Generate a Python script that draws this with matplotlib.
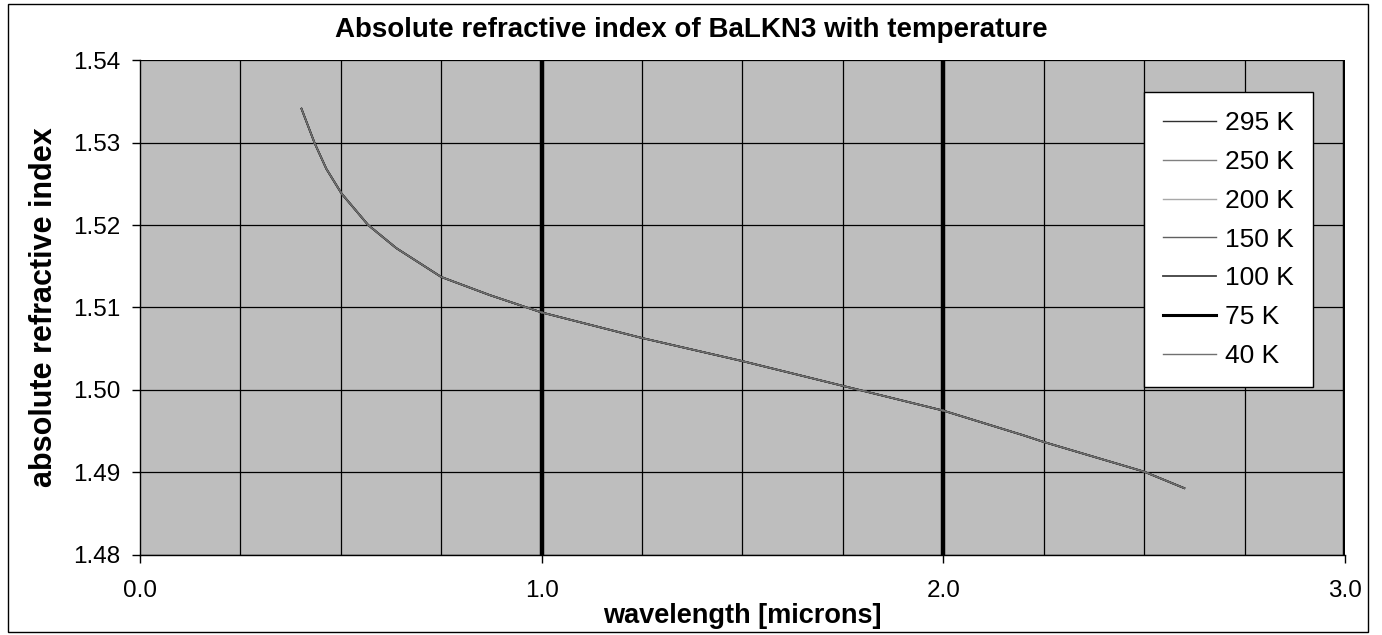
import numpy as np
import matplotlib
matplotlib.use("Agg")
import matplotlib.pyplot as plt
from matplotlib.patches import Rectangle

plt.rcParams['font.family'] = ['Liberation Sans', 'DejaVu Sans']

# values (all temperatures overlap on the scale shown)
wavelength = [0.402, 0.435, 0.464, 0.502, 0.568, 0.638, 0.750, 0.871, 1.00, 1.25, 1.50, 1.75,
              2.00, 2.20, 2.25, 2.50, 2.60]
index_read = [1.5341, 1.5299, 1.5268, 1.5238, 1.5200, 1.5172, 1.5137, 1.5115, 1.5094, 1.5063,
              1.5035, 1.5005, 1.4975, 1.4945, 1.4937, 1.4901, 1.4881]
temperatures = ["295 K", "250 K", "200 K", "150 K", "100 K", "75 K", "40 K"]
line_colors = ["#303030", "#808080", "#a8a8a8", "#606060", "#404040", "#000000", "#707070"]
line_widths = [1.0, 1.0, 1.0, 1.0, 1.3, 2.2, 1.0]

fig = plt.figure(figsize=(13.82, 6.35), dpi=100)
ax = fig.add_axes([0.1013, 0.126, 0.8719, 0.7795])
ax.set_facecolor("#bebebe")

for label, c in zip(temperatures, line_colors):
    ax.plot(wavelength, index_read, color=c, lw=1.2, label=label, zorder=3)

ax.set_xlim(0, 3.0)
ax.set_ylim(1.48, 1.54)
ax.set_xticks([0.0, 1.0, 2.0, 3.0])
ax.set_xticklabels(["0.0", "1.0", "2.0", "3.0"])
ax.set_xticks(np.arange(0, 3.01, 0.25), minor=True)
ax.set_yticks(np.arange(1.48, 1.5401, 0.01))
ax.set_yticklabels(["1.48", "1.49", "1.50", "1.51", "1.52", "1.53", "1.54"])
ax.tick_params(axis='both', labelsize=17.5, direction='out', length=6, width=1)
ax.tick_params(axis='x', pad=12)
ax.tick_params(axis='y', pad=8)
ax.tick_params(axis='x', which='minor', length=0)

# grid: thin lines every 0.25 and 0.01, heavy lines on whole microns
ax.grid(True, which='minor', axis='x', color='black', lw=0.9, zorder=1)
ax.grid(True, which='major', axis='y', color='black', lw=0.9, zorder=1)
for xv in [1.0, 2.0, 3.0]:
    ax.axvline(xv, color='black', lw=3.2, zorder=2)

for s in ['top', 'right']:
    ax.spines[s].set_visible(False)
ax.spines['left'].set_linewidth(1.0)
ax.spines['bottom'].set_linewidth(1.0)

ax.set_xlabel("wavelength [microns]", fontsize=19.5, fontweight='bold', labelpad=1)
ax.set_ylabel("absolute refractive index", fontsize=22, fontweight='bold', labelpad=10)
fig.text(0.5, 0.952, "Absolute refractive index of BaLKN3 with temperature",
         ha='center', va='center', fontsize=20, fontweight='bold')

leg = ax.legend(loc='upper right', bbox_to_anchor=(0.9734, 0.935), borderaxespad=0,
                fontsize=19, frameon=True, fancybox=False, edgecolor='black', framealpha=1,
                handlelength=2.0, handletextpad=0.35, labelspacing=0.56, borderpad=0.72)
leg.get_frame().set_linewidth(1.0)
for hl, lw in zip(leg.get_lines(), line_widths):
    hl.set_linewidth(lw)

# outer chart border
fig.patches.append(Rectangle((0.006, 0.004), 0.984, 0.99, transform=fig.transFigure,
                             fill=False, edgecolor='black', lw=1.0))

fig.savefig("out.png", dpi=100)
